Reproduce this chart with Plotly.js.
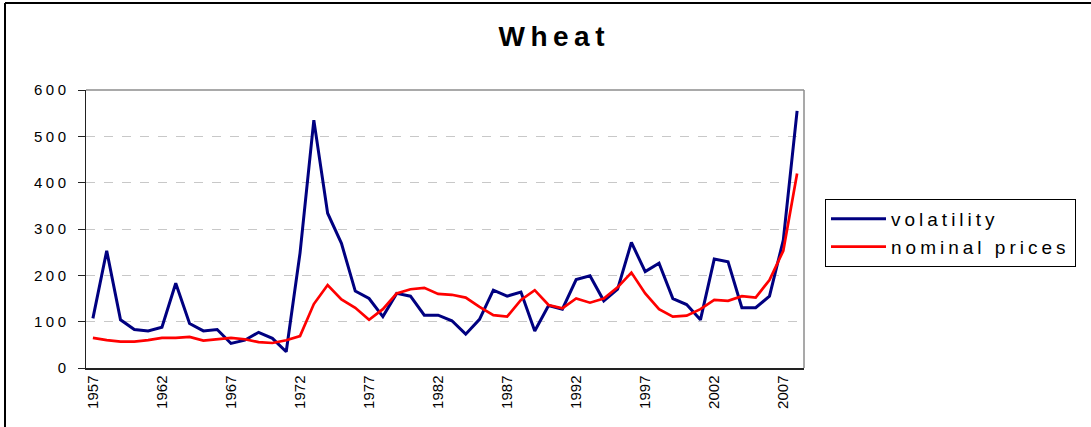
<!DOCTYPE html>
<html>
<head>
<meta charset="utf-8">
<script src="https://cdn.plot.ly/plotly-3.0.1.min.js"></script>
<style>
  html, body { margin: 0; padding: 0; background: #fff; }
  #chart { width: 1091px; height: 427px; }
  .ytick text { letter-spacing: 3.5px; }
  .legendtext { letter-spacing: 4px; }
  .gtitle { letter-spacing: 5.5px; }
</style>
</head>
<body>
<div id="chart"></div>
<script>
const years = [];
for (let y = 1957; y <= 2008; y++) years.push(y);

const volatility = [107, 253, 104, 83, 80, 88, 183, 96, 80, 83,
  53, 60, 77, 64, 35, 248, 535, 334, 269, 166,
  150, 111, 161, 155, 114, 114, 102, 73, 105, 168,
  155, 164, 80, 135, 127, 191, 199, 145, 170, 271,
  208, 226, 150, 137, 104, 235, 229, 130, 130, 155,
  276, 555];

const nominalPrices = [65, 60, 57, 57, 60, 65, 65, 67, 59, 62,
  65, 62, 56, 54, 60, 69, 138, 179, 148, 130,
  104, 127, 161, 170, 173, 160, 158, 152, 132, 114,
  111, 147, 168, 136, 129, 150, 141, 150, 174, 206,
  161, 127, 111, 113, 127, 147, 145, 155, 152, 190,
  253, 420];

const xTickVals = [1957, 1962, 1967, 1972, 1977, 1982, 1987, 1992, 1997, 2002, 2007];
const xTickText = xTickVals.map(String);

const traces = [
  { x: years, y: volatility, type: 'scatter', mode: 'lines', name: 'volatility',
    line: { color: '#000080', width: 3 } },
  { x: years, y: nominalPrices, type: 'scatter', mode: 'lines', name: 'nominal prices',
    line: { color: '#ff0000', width: 2.7 } }
];

const font = 'Liberation Sans, Arial, sans-serif';

const layout = {
  width: 1091, height: 427,
  margin: { l: 86, r: 287, t: 90, b: 59, pad: 0 },
  paper_bgcolor: '#ffffff', plot_bgcolor: '#ffffff',
  showlegend: true,
  title: { text: '<b>Wheat</b>', font: { family: font, size: 28, color: '#000' },
           xref: 'container', x: 0.508, xanchor: 'center',
           yref: 'container', y: 1 - 36 / 427, yanchor: 'middle' },
  xaxis: {
    range: [1956.5, 2008.5], tickmode: 'array', tickvals: xTickVals, ticktext: xTickText,
    tickangle: -90, ticks: '', showgrid: false, zeroline: false,
    showline: true, linecolor: '#222', linewidth: 1.5,
    tickfont: { family: font, size: 15, color: '#000' }
  },
  yaxis: {
    range: [0, 600], dtick: 100, tick0: 0, ticks: 'outside', ticklen: 7, tickcolor: '#222',
    ticklabelstandoff: 5,
    showgrid: true, gridcolor: '#c8c8c8', griddash: 'dash', gridwidth: 1, zeroline: false,
    showline: true, linecolor: '#222', linewidth: 1.5,
    tickfont: { family: font, size: 15, color: '#000' }
  },
  legend: {
    x: (825 - 86) / 718, xanchor: 'left', y: (368 - 199) / 278, yanchor: 'top',
    bordercolor: '#000', borderwidth: 1, bgcolor: '#fff',
    font: { family: font, size: 19, color: '#000' },
    itemwidth: 55,
    tracegroupgap: 0
  },
  shapes: [
    { type: 'line', xref: 'paper', yref: 'paper', x0: 0, x1: 1, y0: 1, y1: 1,
      line: { color: '#8c8c8c', width: 1.5 }, layer: 'below' },
    { type: 'line', xref: 'paper', yref: 'paper', x0: 1, x1: 1, y0: 0, y1: 1,
      line: { color: '#8c8c8c', width: 1.5 }, layer: 'below' },
    { type: 'line', xref: 'paper', yref: 'paper', x0: (5 - 86) / 718, x1: (5 - 86) / 718,
      y0: (368 - 3) / 278, y1: (368 - 430) / 278, line: { color: '#000', width: 2 } },
    { type: 'line', xref: 'paper', yref: 'paper', x0: (5 - 86) / 718, x1: (1095 - 86) / 718,
      y0: (368 - 3) / 278, y1: (368 - 3) / 278, line: { color: '#000', width: 2 } }
  ]
};

Plotly.newPlot('chart', traces, layout, { displayModeBar: false, staticPlot: true });
</script>
</body>
</html>
